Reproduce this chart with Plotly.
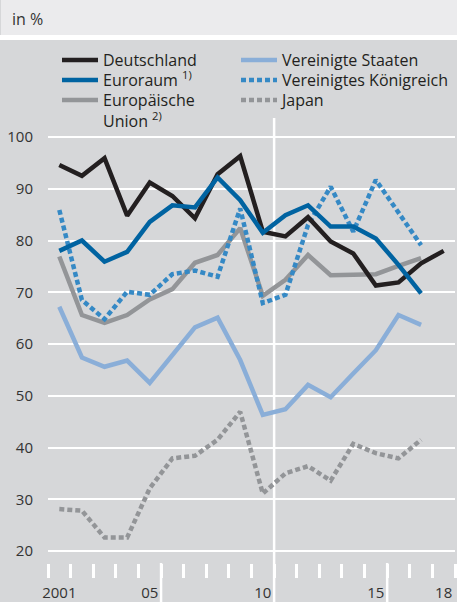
import plotly.graph_objects as go

years = list(range(2001, 2019))
years17 = list(range(2001, 2018))

deutschland = [94.6, 92.5, 95.9, 84.8, 91.2, 88.6, 84.3, 92.8, 96.3, 81.7, 80.8, 84.5, 79.8, 77.5, 71.3, 71.9, 75.6, 78.0]
euroraum = [78.0, 80.0, 75.9, 77.8, 83.6, 86.8, 86.4, 92.2, 87.8, 81.5, 84.9, 86.8, 82.7, 82.7, 80.4, 75.3, 69.8]
eu = [76.9, 65.6, 64.1, 65.6, 68.6, 70.6, 75.7, 77.2, 82.4, 69.3, 72.4, 77.2, 73.3, 73.5, 73.5, 75.1, 76.6]
us = [67.2, 57.4, 55.6, 56.8, 52.5, 58.0, 63.2, 65.1, 56.9, 46.3, 47.4, 52.1, 49.7, 54.3, 58.8, 65.6, 63.7]
uk = [85.9, 68.5, 64.8, 70.1, 69.5, 73.5, 74.2, 73.0, 86.2, 67.9, 69.5, 83.0, 90.4, 81.7, 91.7, 85.3, 79.1]
japan = [28.1, 27.8, 22.6, 22.6, 32.1, 37.9, 38.4, 41.5, 46.9, 31.1, 35.0, 36.4, 33.6, 40.7, 38.9, 37.9, 41.5]

y_ticks = [20, 30, 40, 50, 60, 70, 80, 90, 100]
x_tickvals = [2001, 2005, 2010, 2015, 2018]
x_ticktext = ["2001", "05", "10", "15", "18"]

FONT = "Open Sans"
PANEL = "#d6d7d9"
BAND = "#ebebed"
TXT = "#333333"
DOT = "5px,3px"

W, H = 457, 602
ML, MR, MT, MB = 48, 2, 118, 39
ph = H - MT - MB
pw = W - ML - MR


def py(pix):
    return (H - MB - pix) / ph


def px(pix):
    return (pix - ML) / pw


fig = go.Figure()

# name, x, y, color, dash, legend id, legend column px, legend row top px
series = [
    ("Japan", years17, japan, "#939598", DOT, "legend6", 236, 83),
    ("Vereinigte Staaten", years17, us, "#8aaed8", "solid", "legend4", 236, 43),
    ("Europäische<br>Union <sup>2)</sup>", years17, eu, "#939598", "solid", "legend3", 57, 83),
    ("Vereinigtes Königreich", years17, uk, "#3589c5", DOT, "legend5", 236, 63),
    ("Deutschland", years, deutschland, "#231f20", "solid", "legend", 57, 43),
    ("Euroraum <sup>1)</sup>", years17, euroraum, "#0063a1", "solid", "legend2", 57, 63),
]
legends = {}
for name, xs, ys, col, dash, leg, lx, ly in series:
    fig.add_trace(go.Scatter(
        x=xs, y=ys, name=name, mode="lines",
        line=dict(color=col, width=4.5, dash=dash),
        legend=leg, hoverinfo="skip",
    ))
    legends[leg] = dict(
        orientation="v", x=px(lx), xanchor="left", y=py(ly), yanchor="top",
        bgcolor="rgba(0,0,0,0)", font=dict(family=FONT, size=16, color="#231f20"),
        valign="top", itemclick=False, itemdoubleclick=False, itemwidth=36,
    )

shapes = [
    dict(type="rect", xref="paper", yref="paper", x0=px(1), x1=px(W + 5),
         y0=py(35), y1=py(-5), fillcolor=BAND, line=dict(width=0), layer="below"),
    dict(type="rect", xref="paper", yref="paper", x0=px(-5), x1=px(W + 5),
         y0=py(40), y1=py(35), fillcolor="white", line=dict(width=0), layer="below"),
    dict(type="line", xref="x", yref="paper", x0=2010.5, x1=2010.5,
         y0=py(H + 5), y1=1, line=dict(color="white", width=2.5), layer="between"),
]
for xv in [2005.5, 2015.5]:
    shapes.append(dict(type="line", xref="x", yref="paper", x0=xv, x1=xv,
                       y0=py(H + 5), y1=0, line=dict(color="white", width=2.5)))

fig.update_layout(
    width=W, height=H,
    margin=dict(l=ML, r=MR, t=MT, b=MB, pad=0, autoexpand=False),
    paper_bgcolor=PANEL, plot_bgcolor=PANEL,
    font=dict(family=FONT, size=14, color=TXT),
    showlegend=True,
    xaxis=dict(
        range=[2000.5, 2018.5], showgrid=False, zeroline=False, showline=False,
        automargin=False,
        tickmode="array", tickvals=x_tickvals, ticktext=x_ticktext,
        ticks="", ticklabelstandoff=19, tickfont=dict(size=15, color=TXT),
        minor=dict(tickmode="array", tickvals=[2000.5 + i for i in range(19)],
                   ticks="outside", ticklen=14, tickwidth=3, tickcolor="white",
                   showgrid=False),
    ),
    yaxis=dict(
        range=[20 - (563 - 551) / 5.175, 100 + (137 - 118) / 5.175],
        automargin=False,
        tickmode="array", tickvals=y_ticks, showgrid=True, gridcolor="white",
        gridwidth=2, zeroline=False, showline=False, ticks="",
        ticklabelstandoff=14, tickfont=dict(size=15, color=TXT),
    ),
    shapes=shapes,
    annotations=[dict(text="in %", xref="paper", yref="paper",
                      x=px(10), y=py(19), xanchor="left",
                      yanchor="middle", showarrow=False,
                      font=dict(family=FONT, size=16, color=TXT))],
    **legends,
)

fig.write_html(
    "out.html",
    config={"displayModeBar": False},
    post_script="document.body.style.margin='0';document.body.style.overflow='hidden';",
)
